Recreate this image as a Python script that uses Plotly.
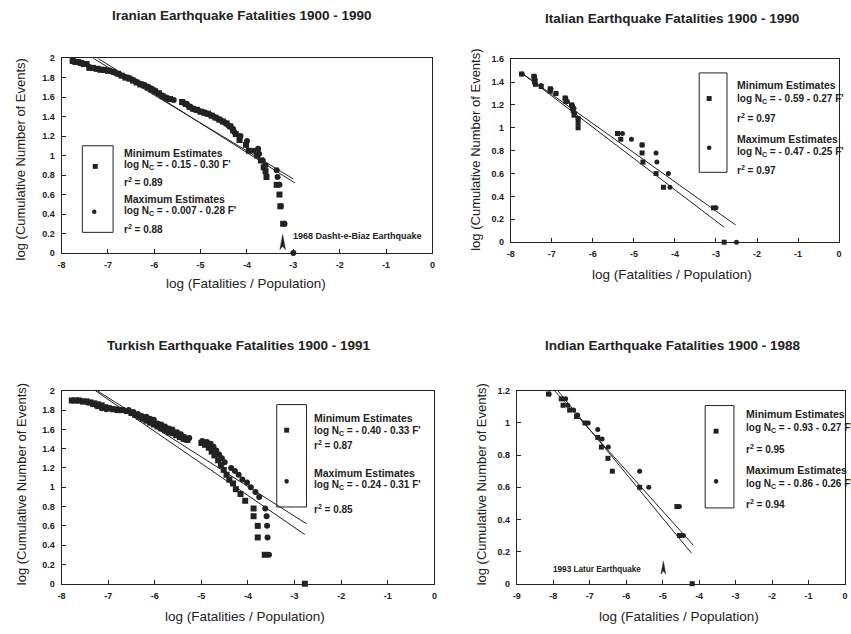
import plotly.graph_objects as go

W, H = 851, 634
def PX(p):
    return p / W
def PY(p):
    return 1 - p / H

# ------------------------------------------------------------------ data
titles = ["Iranian Earthquake Fatalities 1900 - 1990",
          "Italian Earthquake Fatalities 1900 - 1990",
          "Turkish Earthquake Fatalities 1900 - 1991",
          "Indian Earthquake Fatalities 1900 - 1988"]
x_title = "log (Fatalities / Population)"
y_title = "log (Cumulative Number of Events)"

# Iranian
iran_min_x = [-7.76, -7.70, -7.64, -7.58, -7.52, -7.46, -7.40, -7.32, -7.24, -7.16, -7.08, -7.00,
              -6.88, -6.78, -6.70, -6.62, -6.54, -6.46, -6.38, -6.30, -6.22, -6.14, -6.06, -5.98,
              -5.90, -5.82, -5.74, -5.66, -5.40, -5.32, -5.24, -5.16, -5.08, -5.00, -4.92, -4.84,
              -4.76, -4.68, -4.60, -4.52, -4.44, -4.36, -4.30, -4.24, -4.16, -4.02, -3.96, -3.78,
              -3.70, -3.64, -3.60, -3.58, -3.36, -3.30, -3.28, -3.22]
iran_min_y = [1.97, 1.96, 1.96, 1.95, 1.94, 1.94, 1.90, 1.90, 1.89, 1.88, 1.88, 1.87,
              1.86, 1.84, 1.82, 1.80, 1.79, 1.77, 1.75, 1.73, 1.72, 1.70, 1.68, 1.66,
              1.64, 1.61, 1.59, 1.58, 1.55, 1.53, 1.50, 1.48, 1.47, 1.45, 1.44, 1.43,
              1.41, 1.39, 1.37, 1.35, 1.33, 1.30, 1.26, 1.22, 1.16, 1.11, 1.05, 1.00,
              0.95, 0.88, 0.84, 0.78, 0.70, 0.60, 0.48, 0.30]
iran_max_x = [-7.74, -7.66, -7.56, -7.40, -7.30, -7.20, -7.10, -6.95, -6.85, -6.74, -6.64, -6.56,
              -6.48, -6.40, -6.32, -6.24, -6.16, -6.08, -6.00, -5.92, -5.84, -5.76, -5.68, -5.58,
              -5.36, -5.28, -5.20, -5.12, -5.04, -4.96, -4.88, -4.80, -4.72, -4.64, -4.56, -4.48,
              -4.40, -4.32, -4.27, -4.14, -4.00, -3.85, -3.76, -3.74, -3.66, -3.60, -3.36, -3.34,
              -3.30, -3.27, -3.19, -3.00]
iran_max_y = [1.97, 1.96, 1.95, 1.91, 1.90, 1.89, 1.88, 1.87, 1.85, 1.83, 1.81, 1.80,
              1.78, 1.76, 1.74, 1.73, 1.71, 1.69, 1.67, 1.64, 1.62, 1.60, 1.58, 1.57,
              1.54, 1.52, 1.49, 1.47, 1.46, 1.45, 1.43, 1.42, 1.40, 1.38, 1.36, 1.34,
              1.31, 1.28, 1.24, 1.20, 1.15, 1.05, 1.07, 1.02, 0.95, 0.90, 0.85, 0.78,
              0.70, 0.48, 0.30, 0.00]
iran_fitA_x = [-7.32, -3.00]
iran_fitA_y = [2.00, 0.76]
iran_fitB_x = [-7.22, -2.97]
iran_fitB_y = [2.00, 0.72]

# Italian
ital_min_x = [-7.74, -7.44, -7.43, -7.42, -7.40, -7.26, -7.04, -7.04, -6.90, -6.68, -6.66, -6.52,
              -6.50, -6.48, -6.46, -6.36, -6.36, -6.36, -5.40, -5.32, -4.80, -4.80, -4.78, -4.46,
              -4.28, -3.06, -2.80]
ital_min_y = [1.47, 1.45, 1.43, 1.40, 1.38, 1.36, 1.34, 1.32, 1.30, 1.26, 1.23, 1.20,
              1.18, 1.15, 1.11, 1.08, 1.04, 1.00, 0.95, 0.90, 0.85, 0.78, 0.70, 0.60,
              0.48, 0.30, 0.00]
ital_max_x = [-7.72, -7.42, -7.40, -7.26, -7.02, -6.90, -6.66, -6.62, -6.50, -6.46, -6.44, -6.36,
              -5.28, -5.06, -4.80, -4.46, -4.44, -4.16, -4.12, -3.00, -2.50]
ital_max_y = [1.47, 1.45, 1.42, 1.37, 1.34, 1.30, 1.26, 1.23, 1.20, 1.17, 1.13, 1.08,
              0.95, 0.90, 0.85, 0.78, 0.70, 0.60, 0.48, 0.30, 0.00]
ital_fitA_x = [-7.74, -2.52]
ital_fitA_y = [1.48, 0.15]
ital_fitB_x = [-7.74, -2.80]
ital_fitB_y = [1.48, 0.13]

# Turkish
turk_min_x = [-7.78, -7.70, -7.62, -7.54, -7.46, -7.38, -7.30, -7.22, -7.14, -7.06, -6.98, -6.90,
              -6.80, -6.70, -6.60, -6.50, -6.42, -6.34, -6.26, -6.18, -6.10, -6.02, -5.94, -5.86,
              -5.78, -5.70, -5.62, -5.54, -5.46, -5.38, -5.30, -5.00, -4.92, -4.84, -4.78, -4.72,
              -4.64, -4.58, -4.52, -4.46, -4.40, -4.32, -4.26, -4.16, -4.06, -3.88, -3.88, -3.79,
              -3.79, -3.64, -2.78]
turk_min_y = [1.90, 1.90, 1.90, 1.89, 1.89, 1.88, 1.87, 1.86, 1.85, 1.83, 1.82, 1.81,
              1.80, 1.80, 1.79, 1.77, 1.75, 1.73, 1.71, 1.69, 1.67, 1.65, 1.63, 1.61,
              1.59, 1.57, 1.56, 1.54, 1.52, 1.50, 1.49, 1.46, 1.44, 1.41, 1.37, 1.33,
              1.28, 1.23, 1.18, 1.13, 1.08, 1.04, 0.98, 0.93, 0.86, 0.78, 0.70, 0.60,
              0.48, 0.30, 0.00]
turk_max_x = [-7.76, -7.66, -7.56, -7.44, -7.34, -7.24, -7.14, -7.04, -6.92, -6.80, -6.68, -6.56,
              -6.46, -6.36, -6.28, -6.18, -6.10, -6.02, -5.94, -5.86, -5.78, -5.70, -5.62, -5.52,
              -5.44, -5.36, -5.26, -4.98, -4.88, -4.80, -4.74, -4.68, -4.62, -4.56, -4.50, -4.36,
              -4.28, -4.20, -4.12, -4.02, -3.94, -3.84, -3.76, -3.63, -3.60, -3.59, -3.58, -3.55]
turk_max_y = [1.90, 1.90, 1.89, 1.88, 1.86, 1.84, 1.82, 1.81, 1.81, 1.81, 1.80, 1.80,
              1.78, 1.76, 1.74, 1.73, 1.71, 1.70, 1.66, 1.65, 1.63, 1.61, 1.60, 1.57,
              1.55, 1.52, 1.51, 1.48, 1.47, 1.45, 1.42, 1.38, 1.34, 1.30, 1.26, 1.20,
              1.17, 1.13, 1.08, 1.05, 1.00, 0.95, 0.90, 0.78, 0.70, 0.60, 0.48, 0.30]
turk_fitA_x = [-7.23, -2.74]
turk_fitA_y = [2.00, 0.62]
turk_fitB_x = [-7.27, -2.78]
turk_fitB_y = [2.00, 0.51]

# Indian
ind_min_x = [-8.13, -7.78, -7.73, -7.55, -7.36, -7.13, -6.78, -6.68, -6.50, -6.38, -5.63,
             -4.61, -4.54, -4.19]
ind_min_y = [1.18, 1.15, 1.11, 1.08, 1.04, 1.00, 0.91, 0.85, 0.78, 0.70, 0.60,
             0.48, 0.30, 0.00]
ind_max_x = [-8.11, -7.66, -7.60, -7.44, -7.33, -7.04, -6.78, -6.66, -6.49, -5.63, -5.38,
             -4.54, -4.43]
ind_max_y = [1.18, 1.15, 1.11, 1.08, 1.05, 1.00, 0.96, 0.90, 0.85, 0.70, 0.60,
             0.48, 0.30]
ind_fitA_x = [-7.96, -4.16]
ind_fitA_y = [1.20, 0.24]
ind_fitB_x = [-7.87, -4.21]
ind_fitB_y = [1.20, 0.19]

# legend texts
legend_min = ["Minimum Estimates"] * 4
eq_min = ["- 0.15 - 0.30 F'", "- 0.59 - 0.27 F'", "- 0.40 - 0.33 F'", "- 0.93 - 0.27 F'"]
r2_min = ["0.89", "0.97", "0.87", "0.95"]
legend_max = ["Maximum Estimates"] * 4
eq_max = ["- 0.007 - 0.28 F'", "- 0.47 - 0.25 F'", "- 0.24 - 0.31 F'", "- 0.86 - 0.26 F'"]
r2_max = ["0.88", "0.97", "0.85", "0.94"]

# highlighted events
dasht_label = "1968 Dasht-e-Biaz Earthquake"
dasht_x = -3.23
latur_label = "1993 Latur Earthquake"
latur_x = -4.98

# ticks
x_ticks_8 = [-8, -7, -6, -5, -4, -3, -2, -1, 0]
x_ticks_9 = [-9, -8, -7, -6, -5, -4, -3, -2, -1, 0]
y_ticks_20 = [0, 0.2, 0.4, 0.6, 0.8, 1, 1.2, 1.4, 1.6, 1.8, 2]
y_ticks_16 = [0, 0.2, 0.4, 0.6, 0.8, 1, 1.2, 1.4, 1.6]
y_ticks_12 = [0, 0.2, 0.4, 0.6, 0.8, 1, 1.2]

def lab(v):
    return "%g" % v

# ------------------------------------------------------------------ style / layout
INK = "#222222"
FONT = "Liberation Sans"

panels = [
    dict(ax="", data=(iran_min_x, iran_min_y, iran_max_x, iran_max_y),
         fits=((iran_fitA_x, iran_fitA_y), (iran_fitB_x, iran_fitB_y)),
         px=(58, 432), py=(54, 252), xr=[-8, 0], yr=[0, 2], xt=x_ticks_8, yt=y_ticks_20,
         title_xy=(240, 11), xt_xy=(244, 283), yt_xy=(17, 157), msize=6,
         leg=dict(box=(79, 143, 110, 231), sq=(92, 164), ci=(91, 210), tx=119,
                  lines=(150, 163, 180, 197, 209, 228))),
    dict(ax="2", data=(ital_min_x, ital_min_y, ital_max_x, ital_max_y),
         fits=((ital_fitA_x, ital_fitA_y), (ital_fitB_x, ital_fitB_y)),
         px=(511, 842), py=(55, 241), xr=[-8, 0], yr=[0, 1.6], xt=x_ticks_8, yt=y_ticks_16,
         title_xy=(674, 14), xt_xy=(674, 274), yt_xy=(476, 147), msize=5,
         leg=dict(box=(701, 69, 729, 170), sq=(711, 95), ci=(711, 145), tx=737,
                  lines=(81, 95, 115, 136, 149, 168))),
    dict(ax="3", data=(turk_min_x, turk_min_y, turk_max_x, turk_max_y),
         fits=((turk_fitA_x, turk_fitA_y), (turk_fitB_x, turk_fitB_y)),
         px=(58, 434), py=(392, 588), xr=[-8, 0], yr=[0, 2], xt=x_ticks_8, yt=y_ticks_20,
         title_xy=(237, 346), xt_xy=(243, 621), yt_xy=(17, 487), msize=6,
         leg=dict(box=(275, 406, 305, 510), sq=(285, 432), ci=(285, 484), tx=311,
                  lines=(420, 433, 447, 475, 488, 512))),
    dict(ax="4", data=(ind_min_x, ind_min_y, ind_max_x, ind_max_y),
         fits=((ind_fitA_x, ind_fitA_y), (ind_fitB_x, ind_fitB_y)),
         px=(517, 848), py=(392, 588), xr=[-9, 0], yr=[0, 1.2], xt=x_ticks_9, yt=y_ticks_12,
         title_xy=(675, 346), xt_xy=(681, 621), yt_xy=(481, 487), msize=5,
         leg=dict(box=(707, 407, 736, 511), sq=(718, 433), ci=(718, 484), tx=746,
                  lines=(416, 430, 451, 472, 487, 507))),
]

fig = go.Figure()
annotations = []
shapes = []
layout = {}

for i, p in enumerate(panels):
    xa, ya = "x" + p["ax"], "y" + p["ax"]
    mnx, mny, mxx, mxy = p["data"]
    for fx, fy in p["fits"]:
        fig.add_trace(go.Scatter(x=fx, y=fy, xaxis=xa, yaxis=ya, mode="lines",
                                 line=dict(color=INK, width=1), showlegend=False,
                                 hoverinfo="skip", cliponaxis=False))
    fig.add_trace(go.Scatter(x=mnx, y=mny, xaxis=xa, yaxis=ya, mode="markers",
                             marker=dict(symbol="square", size=p["msize"], color=INK),
                             showlegend=False, cliponaxis=False, name="Minimum Estimates"))
    fig.add_trace(go.Scatter(x=mxx, y=mxy, xaxis=xa, yaxis=ya, mode="markers",
                             marker=dict(symbol="circle", size=p["msize"], color=INK),
                             showlegend=False, cliponaxis=False, name="Maximum Estimates"))

    common = dict(showline=True, linecolor=INK, linewidth=1, mirror=True,
                  ticks="inside", ticklen=4, tickcolor=INK, tickwidth=1,
                  showgrid=False, zeroline=False,
                  tickfont=dict(family=FONT, size=9, color=INK, weight="bold"))
    layout["xaxis" + p["ax"]] = dict(common, domain=[PX(p["px"][0]), PX(p["px"][1])],
                                     range=p["xr"], anchor=ya,
                                     tickvals=p["xt"], ticktext=[lab(v) for v in p["xt"]],
                                     ticklabelstandoff=3)
    layout["yaxis" + p["ax"]] = dict(common, domain=[PY(p["py"][1]), PY(p["py"][0])],
                                     range=p["yr"], anchor=xa,
                                     tickvals=p["yt"], ticktext=[lab(v) for v in p["yt"]],
                                     ticklabelstandoff=4)

    annotations.append(dict(text=titles[i], x=PX(p["title_xy"][0]), y=PY(p["title_xy"][1]),
                            xref="paper", yref="paper", showarrow=False,
                            xanchor="center", yanchor="middle",
                            font=dict(family=FONT, size=13.5, color=INK, weight="bold")))
    annotations.append(dict(text=x_title, x=PX(p["xt_xy"][0]), y=PY(p["xt_xy"][1]),
                            xref="paper", yref="paper", showarrow=False,
                            xanchor="center", yanchor="middle",
                            font=dict(family=FONT, size=13.5, color=INK)))
    annotations.append(dict(text=y_title, x=PX(p["yt_xy"][0]), y=PY(p["yt_xy"][1]),
                            xref="paper", yref="paper", showarrow=False, textangle=-90,
                            xanchor="center", yanchor="middle",
                            font=dict(family=FONT, size=13, color=INK)))

    lg = p["leg"]
    b = lg["box"]
    shapes.append(dict(type="rect", xref="paper", yref="paper",
                       x0=PX(b[0]), x1=PX(b[2]), y0=PY(b[3]), y1=PY(b[1]),
                       line=dict(color=INK, width=1), fillcolor="rgba(0,0,0,0)"))
    sx, sy = lg["sq"]
    shapes.append(dict(type="rect", xref="paper", yref="paper",
                       x0=PX(sx - 2.5), x1=PX(sx + 2.5), y0=PY(sy + 2.5), y1=PY(sy - 2.5),
                       line=dict(width=0), fillcolor=INK))
    cx, cy = lg["ci"]
    shapes.append(dict(type="circle", xref="paper", yref="paper",
                       x0=PX(cx - 2.3), x1=PX(cx + 2.3), y0=PY(cy + 2.3), y1=PY(cy - 2.3),
                       line=dict(width=0), fillcolor=INK))
    texts = [(legend_min[i], 10.5), ("log N<sub>C</sub> = " + eq_min[i], 10),
             ("r<sup>2</sup> = " + r2_min[i], 10),
             (legend_max[i], 10.5), ("log N<sub>C</sub> = " + eq_max[i], 10),
             ("r<sup>2</sup> = " + r2_max[i], 10)]
    for (t, fs), ly in zip(texts, lg["lines"]):
        annotations.append(dict(text=t, x=PX(lg["tx"]), y=PY(ly), xref="paper", yref="paper",
                                showarrow=False, xanchor="left", yanchor="middle",
                                font=dict(family=FONT, size=fs, color=INK, weight="bold")))

def arrow_path(x, y0, y1, hw, notch):
    return f"M {x - hw},{y0} L {x},{y1} L {x + hw},{y0} L {x},{y0 + notch} Z"

shapes.append(dict(type="path", xref="x", yref="y",
                   path=arrow_path(dasht_x, 0.035, 0.19, 0.06, 0.035),
                   fillcolor=INK, line=dict(color=INK, width=0.5)))
annotations.append(dict(text=dasht_label, x=dasht_x + 0.17, y=0.175, xref="x", yref="y",
                        showarrow=False, xanchor="left", yanchor="middle",
                        font=dict(family=FONT, size=9, color=INK, weight="bold")))
shapes.append(dict(type="path", xref="x4", yref="y4",
                   path=arrow_path(latur_x, 0.06, 0.14, 0.065, 0.02),
                   fillcolor=INK, line=dict(color=INK, width=0.5)))
annotations.append(dict(text=latur_label, x=-8.05, y=0.09, xref="x4", yref="y4",
                        showarrow=False, xanchor="left", yanchor="middle",
                        font=dict(family=FONT, size=8.2, color=INK, weight="bold")))

fig.update_layout(width=W, height=H, margin=dict(l=0, r=0, t=0, b=0),
                  paper_bgcolor="white", plot_bgcolor="white",
                  showlegend=False, annotations=annotations, shapes=shapes, **layout)

fig.write_html("out.html")
